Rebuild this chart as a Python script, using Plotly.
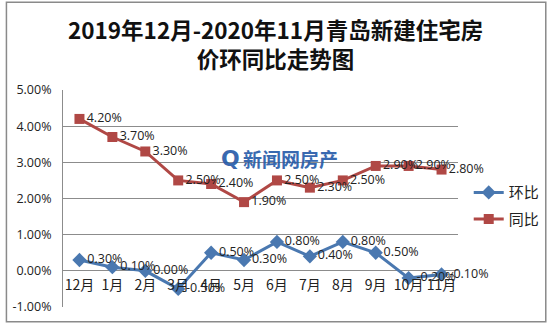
import plotly.graph_objects as go

months = ["12月", "1月", "2月", "3月", "4月", "5月", "6月", "7月", "8月", "9月", "10月", "11月"]
huanbi = [0.30, 0.10, 0.00, -0.50, 0.50, 0.30, 0.80, 0.40, 0.80, 0.50, -0.20, -0.10]
tongbi = [4.20, 3.70, 3.30, 2.50, 2.40, 1.90, 2.50, 2.30, 2.50, 2.90, 2.90, 2.80]
y_ticks = [-1, 0, 1, 2, 3, 4, 5]
title_lines = ["2019年12月-2020年11月青岛新建住宅房", "价环同比走势图"]

W, H = 557, 327
L, R, T, B = 60, 92, 90, 18
pw, ph = W - L - R, H - T - B

def px(x):
    return (x - L) / pw

def py(y):
    return (H - B - y) / ph

label_font = dict(family="Open Sans, DejaVu Sans, sans-serif", size=12.5, color="#222")

fig = go.Figure()
fig.add_trace(go.Scatter(
    x=months, y=huanbi, name="环比", mode="lines+markers+text",
    line=dict(color="#4A78B0", width=3),
    marker=dict(symbol="diamond", size=11, color="#4A78B0"),
    text=[f"{v:.2f}%" for v in huanbi], textposition="middle right",
    textfont=label_font, legendgroup="a", cliponaxis=False,
))
fig.add_trace(go.Scatter(
    x=months, y=tongbi, name="同比", mode="lines+markers+text",
    line=dict(color="#B04845", width=3),
    marker=dict(symbol="square", size=10, color="#B04845"),
    text=[f"{v:.2f}%" for v in tongbi], textposition="middle right",
    textfont=label_font, legendgroup="b", cliponaxis=False,
))

fig.update_layout(
    width=W, height=H,
    margin=dict(l=L, r=R, t=T, b=B),
    paper_bgcolor="white", plot_bgcolor="white",
    font=dict(family="Noto Sans CJK SC, sans-serif", color="#222"),
    showlegend=True,
    legend=dict(x=px(476), y=py(177), xanchor="left", yanchor="top",
                font=dict(size=15, family="Noto Sans CJK SC"),
                tracegroupgap=4, bgcolor="rgba(0,0,0,0)"),
    xaxis=dict(
        type="category", anchor="free", position=(0 - y_ticks[0]) / (y_ticks[-1] - y_ticks[0]),
        showgrid=False, showline=False, zeroline=False, ticks="",
        tickfont=dict(size=14, family="Noto Sans CJK SC", color="#222"),
        ticklabelstandoff=4,
        range=[-0.5, len(months) - 0.5],
    ),
    yaxis=dict(
        range=[y_ticks[0], y_ticks[-1]], tickvals=y_ticks,
        ticktext=[f"{v:.2f}%" for v in y_ticks],
        showgrid=True, gridcolor="#8c8c8c", gridwidth=1,
        showline=True, linecolor="#8c8c8c", linewidth=1,
        zeroline=False, ticks="",
        tickfont=dict(size=12.5, family="Open Sans, DejaVu Sans, sans-serif", color="#222"),
        ticklabelstandoff=8,
    ),
    shapes=[dict(type="rect", xref="paper", yref="paper",
                 x0=px(2), x1=px(555), y0=py(324), y1=py(1.5),
                 line=dict(color="#8a8a8a", width=1.5), layer="below")],
    annotations=[
        dict(text="<b>" + title_lines[0] + "</b><br><b>" + title_lines[1] + "</b>",
             xref="paper", yref="paper", x=px(278), y=py(43),
             xanchor="center", yanchor="middle", showarrow=False,
             font=dict(size=22.5, family="Noto Sans CJK SC", color="#111")),
        dict(text="<b>新闻网房产</b>", xref="paper", yref="paper",
             x=px(243), y=py(159), xanchor="left", yanchor="middle", showarrow=False,
             font=dict(size=19, family="Noto Sans CJK SC", color="#2459a8"), opacity=0.9),
        dict(text="<b>Q</b>", xref="paper", yref="paper",
             x=px(232), y=py(159), xanchor="center", yanchor="middle", showarrow=False,
             font=dict(size=22, family="DejaVu Sans", color="#2459a8"), opacity=0.9),
    ],
)

fig.write_html("out.html")
